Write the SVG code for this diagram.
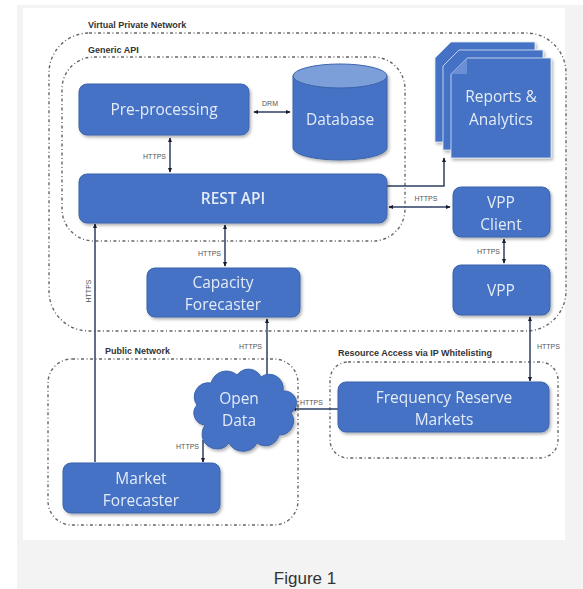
<svg xmlns="http://www.w3.org/2000/svg" width="583" height="589" viewBox="0 0 583 589">
<style>
.node{fill:#4472c4;stroke:#3b64ad;stroke-width:1}
.nt{fill:#e4ebf7;font-family:"Open Sans","Noto Sans",sans-serif;font-size:15.5px;text-anchor:middle}
.cont{fill:none;stroke:#666;stroke-width:1.4;stroke-dasharray:3 2.5 1 2.5}
.cl{fill:#333;font-family:"Liberation Sans",Arial,sans-serif;font-size:9px;font-weight:bold}
.lab{fill:#555;font-family:"Liberation Sans",Arial,sans-serif;font-size:7px}
.con{fill:none;stroke:#2c3f63;stroke-width:1.5}
.doc{fill:#4472c4;stroke:#dfe7f5;stroke-width:0.8}
</style>
<defs>
<marker id="ah" viewBox="0 0 8 8" refX="7" refY="4" markerWidth="5" markerHeight="5" orient="auto-start-reverse" markerUnits="userSpaceOnUse">
<path d="M0,0.5 L8,4 L0,7.5 Z" fill="#1a1a2e"/>
</marker>
<filter id="sh" x="-10%" y="-10%" width="130%" height="140%">
<feDropShadow dx="1.5" dy="2" stdDeviation="1.5" flood-color="#000" flood-opacity="0.3"/>
</filter>
</defs>
<rect x="0" y="0" width="583" height="589" fill="#ffffff"/>
<rect x="17" y="5" width="566" height="584" fill="#f3f3f3"/>
<rect x="23" y="8" width="542" height="532" fill="#ffffff"/>

<g id="containers">
<g id="vpn"><rect class="cont" x="49" y="33" width="517" height="298" rx="40"/><text class="cl" x="88" y="28">Virtual Private Network</text></g>
<g id="generic-api"><rect class="cont" x="62" y="57" width="343" height="184" rx="32"/><text class="cl" x="88" y="53">Generic API</text></g>
<g id="public-network"><rect class="cont" x="48" y="359" width="250" height="166" rx="24"/><text class="cl" x="105" y="354">Public Network</text></g>
<g id="resource-access"><rect class="cont" x="330" y="362" width="228" height="96" rx="18"/><text class="cl" x="338" y="356">Resource Access via IP Whitelisting</text></g>
</g>

<g id="connectors">
<line class="con" x1="254" y1="112" x2="290" y2="112" marker-start="url(#ah)" marker-end="url(#ah)"/>
<text class="lab" x="270" y="106" text-anchor="middle">DRM</text>
<line class="con" x1="170" y1="138" x2="170" y2="172" marker-start="url(#ah)" marker-end="url(#ah)"/>
<text class="lab" x="166" y="159" text-anchor="end">HTTPS</text>
<path class="con" d="M387,186 H444 V158" marker-end="url(#ah)"/>
<line class="con" x1="389" y1="207" x2="450" y2="207" marker-start="url(#ah)" marker-end="url(#ah)"/>
<text class="lab" x="426" y="201" text-anchor="middle">HTTPS</text>
<line class="con" x1="504" y1="239" x2="504" y2="263" marker-start="url(#ah)" marker-end="url(#ah)"/>
<text class="lab" x="500" y="254" text-anchor="end">HTTPS</text>
<line class="con" x1="530" y1="317" x2="530" y2="381" marker-start="url(#ah)" marker-end="url(#ah)"/>
<text class="lab" x="537" y="349">HTTPS</text>
<line class="con" x1="225" y1="225" x2="225" y2="266" marker-start="url(#ah)" marker-end="url(#ah)"/>
<text class="lab" x="221" y="256" text-anchor="end">HTTPS</text>
<line class="con" x1="267" y1="376" x2="267" y2="319" marker-end="url(#ah)"/>
<text class="lab" x="262" y="349" text-anchor="end">HTTPS</text>
<line class="con" x1="338" y1="409" x2="292" y2="409" marker-end="url(#ah)"/>
<text class="lab" x="300" y="405">HTTPS</text>
<line class="con" x1="203" y1="440" x2="203" y2="462" marker-end="url(#ah)"/>
<text class="lab" x="199" y="449" text-anchor="end">HTTPS</text>
<line class="con" x1="95" y1="462" x2="95" y2="224" marker-end="url(#ah)"/>
<text class="lab" transform="translate(91,291) rotate(-90)" text-anchor="middle">HTTPS</text>
</g>

<g id="preprocessing" filter="url(#sh)"><rect class="node" x="79" y="84" width="170" height="51" rx="8"/><text class="nt" x="164" y="115">Pre-processing</text></g>

<g id="database" filter="url(#sh)">
<path class="node" d="M293,76 V148 A47,12 0 0 0 387,148 V76 Z"/>
<ellipse cx="340" cy="76" rx="47" ry="12" fill="#7d9fd9" stroke="#3b64ad"/>
<text class="nt" x="340" y="125">Database</text>
</g>

<g id="reports" filter="url(#sh)">
<path class="doc" d="M451,42 H535 V142 H435 V58 Z"/>
<path class="doc" d="M459,50 H543 V150 H443 V66 Z"/>
<path class="doc" d="M467,58 H551 V158 H451 V74 Z"/>
<path d="M451,74 L467,74 L467,58 Z" fill="#6a8fd4"/>
<text class="nt" x="501" y="102">Reports &amp;</text>
<text class="nt" x="501" y="125">Analytics</text>
</g>

<g id="rest-api" filter="url(#sh)"><rect class="node" x="79" y="174" width="308" height="49" rx="8"/><text class="nt" x="233" y="204" font-weight="600">REST API</text></g>

<g id="vpp-client" filter="url(#sh)"><rect class="node" x="453" y="187" width="97" height="50" rx="8"/><text class="nt" x="501" y="208">VPP</text><text class="nt" x="501" y="230">Client</text></g>

<g id="vpp" filter="url(#sh)"><rect class="node" x="453" y="265" width="97" height="50" rx="8"/><text class="nt" x="501" y="296">VPP</text></g>

<g id="capacity" filter="url(#sh)"><rect class="node" x="147" y="268" width="153" height="49" rx="8"/><text class="nt" x="223" y="288">Capacity</text><text class="nt" x="223" y="310">Forecaster</text></g>

<g id="open-data" filter="url(#sh)">
<path class="node" d="M205,425 a12,12 0 0 1 -8,-20 a14,14 0 0 1 14,-22 a16,16 0 0 1 26,-8 a14,14 0 0 1 24,2 a14,14 0 0 1 22,14 a12,12 0 0 1 8,22 a14,14 0 0 1 -12,22 a14,14 0 0 1 -22,8 a16,16 0 0 1 -28,0 a14,14 0 0 1 -24,-18 Z"/>
<text class="nt" x="239" y="404">Open</text><text class="nt" x="239" y="426">Data</text>
</g>

<g id="frm" filter="url(#sh)"><rect class="node" x="338" y="382" width="211" height="50" rx="8"/><text class="nt" x="444" y="403">Frequency Reserve</text><text class="nt" x="444" y="425">Markets</text></g>

<g id="market" filter="url(#sh)"><rect class="node" x="63" y="463" width="157" height="50" rx="8"/><text class="nt" x="141" y="484">Market</text><text class="nt" x="141" y="506">Forecaster</text></g>

<text x="305" y="584" font-family="Liberation Sans,Arial,sans-serif" font-size="17" fill="#333" text-anchor="middle">Figure 1</text>
</svg>
